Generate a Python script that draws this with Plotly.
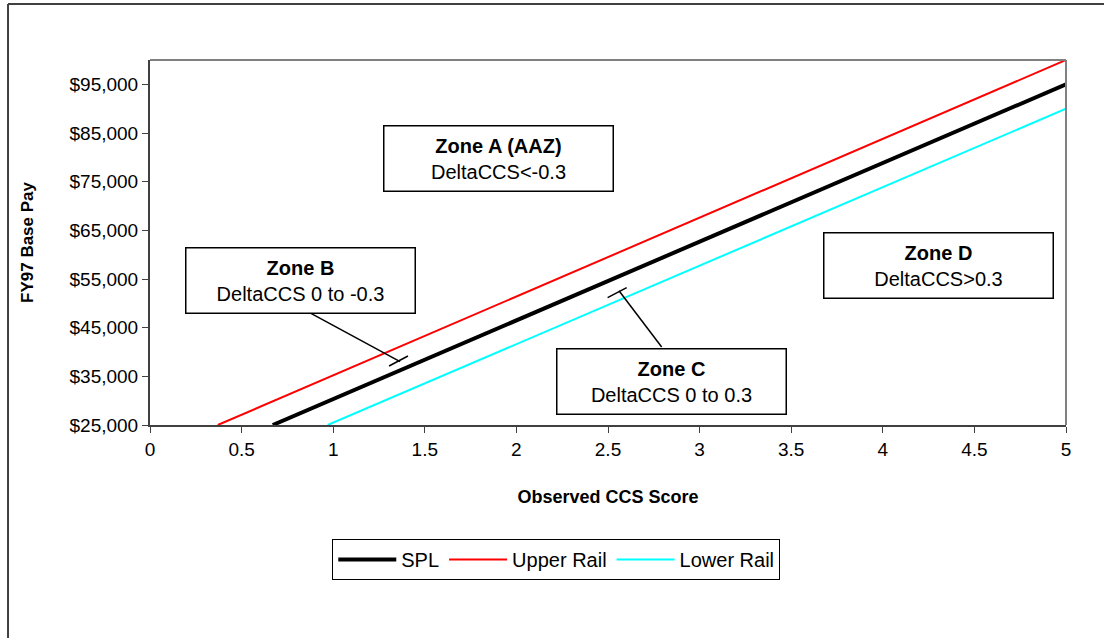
import plotly.graph_objects as go

# ---- data ----
spl_x = [0.67, 5.0]
spl_y = [25000, 95000]
upper_x = [0.37, 5.0]
upper_y = [25000, 100000]
lower_x = [0.97, 5.0]
lower_y = [25000, 90000]

x_ticks = [0, 0.5, 1, 1.5, 2, 2.5, 3, 3.5, 4, 4.5, 5]
y_ticks = [25000, 35000, 45000, 55000, 65000, 75000, 85000, 95000]

zone_titles = ["Zone A (AAZ)", "Zone B", "Zone C", "Zone D"]
zone_texts = ["DeltaCCS&lt;-0.3", "DeltaCCS 0 to -0.3", "DeltaCCS 0 to 0.3", "DeltaCCS&gt;0.3"]
zone_x = [1.902, 0.819, 2.849, 4.304]
zone_y = [79863, 54692, 34041, 57877]

FONT = "Liberation Sans, Arial, sans-serif"

fig = go.Figure()
fig.add_trace(go.Scatter(x=spl_x, y=spl_y, mode="lines", name="SPL",
                         line=dict(color="black", width=4)))
fig.add_trace(go.Scatter(x=upper_x, y=upper_y, mode="lines", name="Upper Rail",
                         line=dict(color="#ff0000", width=2)))
fig.add_trace(go.Scatter(x=lower_x, y=lower_y, mode="lines", name="Lower Rail",
                         line=dict(color="#00ffff", width=2)))

annotations = []
for t, s, x, y in zip(zone_titles, zone_texts, zone_x, zone_y):
    annotations.append(dict(
        x=x, y=y, xref="x", yref="y", showarrow=False,
        text=f"<b>{t}</b><br>{s}",
        font=dict(family=FONT, size=20, color="black"),
        align="center", bgcolor="white", bordercolor="black", borderwidth=1.5,
        width=224, height=60, borderpad=2,
    ))

shapes = [
    # leader lines (Zone B, Zone C) with end ticks
    dict(type="line", xref="x", yref="y", x0=0.861, y0=48281, x1=1.365, y1=38007,
         line=dict(color="black", width=1.5)),
    dict(type="line", xref="x", yref="y", x0=1.305, y0=37123, x1=1.408, y1=39178,
         line=dict(color="black", width=1.5)),
    dict(type="line", xref="x", yref="y", x0=2.793, y0=41027, x1=2.560, y1=52596,
         line=dict(color="black", width=1.5)),
    dict(type="line", xref="x", yref="y", x0=2.498, y0=51158, x1=2.602, y1=53213,
         line=dict(color="black", width=1.5)),
    # plot-area top and right borders
    dict(type="line", xref="paper", yref="paper", x0=0, y0=1, x1=1, y1=1,
         line=dict(color="#808080", width=2)),
    dict(type="line", xref="paper", yref="paper", x0=1, y0=0, x1=1, y1=1,
         line=dict(color="#808080", width=2)),
    # outer chart frame (top and left)
    dict(type="line", xref="paper", yref="paper", x0=-0.155, y0=1.1535, x1=1.2, y1=1.1535,
         line=dict(color="#404040", width=2)),
    dict(type="line", xref="paper", yref="paper", x0=-0.155, y0=1.1535, x1=-0.155, y1=-0.6,
         line=dict(color="#404040", width=2)),
]

fig.update_layout(
    width=1104, height=638,
    margin=dict(l=150, r=38, t=60, b=213),
    paper_bgcolor="white", plot_bgcolor="white",
    font=dict(family=FONT, size=19, color="black"),
    showlegend=True,
    legend=dict(orientation="h", x=0.199, y=-0.312, xanchor="left", yanchor="top",
                bordercolor="black", borderwidth=1, bgcolor="white",
                font=dict(family=FONT, size=20, color="black"),
                itemwidth=58, tracegroupgap=0),
    annotations=annotations,
    shapes=shapes,
    xaxis=dict(range=[0, 5], tickvals=x_ticks, ticktext=[f"{v:g}" for v in x_ticks],
               ticks="outside", ticklen=6, tickcolor="#404040",
               showline=True, linecolor="#404040", linewidth=2,
               showgrid=False, zeroline=False,
               tickfont=dict(size=19),
               title=dict(text="<b>Observed CCS Score</b>", font=dict(size=18), standoff=32)),
    yaxis=dict(range=[25000, 100000], tickvals=y_ticks,
               ticktext=[f"${v:,}" for v in y_ticks],
               ticks="outside", ticklen=6, tickcolor="#404040",
               showline=True, linecolor="#404040", linewidth=2,
               showgrid=False, zeroline=False,
               tickfont=dict(size=19),
               title=dict(text="<b>FY97 Base Pay</b>", font=dict(size=17), standoff=32)),
)

fig.write_html("out.html")
